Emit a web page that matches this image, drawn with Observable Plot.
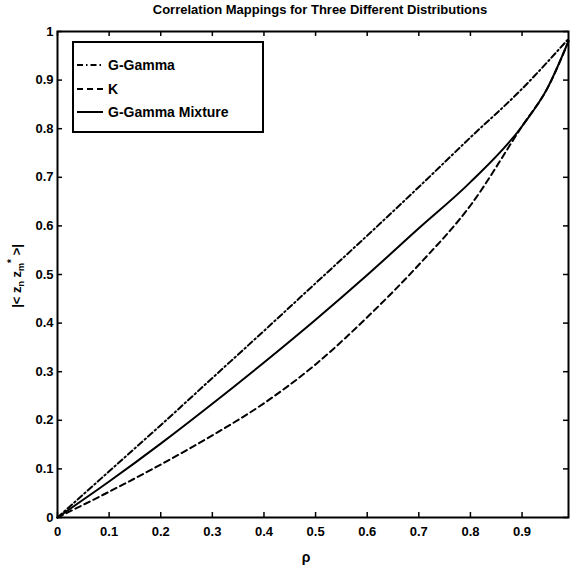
<!DOCTYPE html>
<html><head><meta charset="utf-8">
<script src="https://cdn.jsdelivr.net/npm/d3@7"></script>
<script src="https://cdn.jsdelivr.net/npm/@observablehq/plot@0.6"></script>
<style>body{margin:0;background:#fff;} svg{display:block;}</style>
</head><body><div id="chart"></div>
<script>
const titleText = "Correlation Mappings for Three Different Distributions";
const seriesNames = ["G-Gamma", "K", "G-Gamma Mixture"];

const rhoGG = [0, 0.1, 0.2, 0.3, 0.4, 0.5, 0.6, 0.7, 0.8, 0.9, 0.99];
const valGG = [0, 0.095, 0.19, 0.287, 0.384, 0.482, 0.58, 0.68, 0.782, 0.882, 0.985];

const rhoK = [0, 0.1, 0.2, 0.3, 0.4, 0.5, 0.6, 0.7, 0.8, 0.9, 0.95, 0.99];
const valK = [0, 0.053, 0.109, 0.169, 0.235, 0.315, 0.412, 0.52, 0.642, 0.805, 0.885, 0.98];

const rhoMix = [0, 0.1, 0.2, 0.3, 0.4, 0.5, 0.6, 0.7, 0.8, 0.9, 0.95, 0.99];
const valMix = [0, 0.074, 0.152, 0.234, 0.319, 0.407, 0.499, 0.595, 0.69, 0.805, 0.885, 0.98];

const xTicks = [0, 0.1, 0.2, 0.3, 0.4, 0.5, 0.6, 0.7, 0.8, 0.9];
const xTickLabels = ["0", "0.1", "0.2", "0.3", "0.4", "0.5", "0.6", "0.7", "0.8", "0.9"];
const yTicks = [0, 0.1, 0.2, 0.3, 0.4, 0.5, 0.6, 0.7, 0.8, 0.9, 1];
const yTickLabels = ["0", "0.1", "0.2", "0.3", "0.4", "0.5", "0.6", "0.7", "0.8", "0.9", "1"];

const toRows = (xs, ys) => xs.map((x, i) => ({rho: x, v: ys[i]}));
const ggRows = toRows(rhoGG, valGG);
const kRows = toRows(rhoK, valK);
const mixRows = toRows(rhoMix, valMix);

const font = "'Liberation Sans', Arial, sans-serif";
const dashDot = "6,3,1.5,3";
const dashed = "6,4";

const W = 580, H = 571, mL = 57, mR = 12, mT = 31, mB = 54, tick = 5;
const innerW = W - mL - mR, innerH = H - mT - mB;

const plot = Plot.plot({
  width: W, height: H,
  marginLeft: mL, marginRight: mR, marginTop: mT, marginBottom: mB,
  x: {domain: [0, 0.99]},
  y: {domain: [0, 1]},
  style: {fontFamily: font, fontSize: "13px", fontWeight: "bold", background: "white", color: "black"},
  marks: [
    Plot.axisX({ticks: xTicks, tickFormat: d => xTickLabels[xTicks.indexOf(d)], tickSize: 0, tickPadding: 9, label: null}),
    Plot.axisY({ticks: yTicks, tickFormat: d => yTickLabels[yTicks.indexOf(d)], tickSize: 0, tickPadding: 4, label: null}),
    // inward ticks on all four sides
    Plot.tickX(xTicks, {x: d => d, insetTop: innerH - tick, stroke: "black", strokeWidth: 1.5}),
    Plot.tickX(xTicks, {x: d => d, insetBottom: innerH - tick, stroke: "black", strokeWidth: 1.5}),
    Plot.tickY(yTicks, {y: d => d, insetRight: innerW - tick, stroke: "black", strokeWidth: 1.5}),
    Plot.tickY(yTicks, {y: d => d, insetLeft: innerW - tick, stroke: "black", strokeWidth: 1.5}),
    Plot.line(ggRows, {x: "rho", y: "v", stroke: "black", strokeWidth: 2, strokeDasharray: dashDot, curve: "monotone-x"}),
    Plot.line(kRows, {x: "rho", y: "v", stroke: "black", strokeWidth: 2, strokeDasharray: dashed, curve: "monotone-x"}),
    Plot.line(mixRows, {x: "rho", y: "v", stroke: "black", strokeWidth: 2, curve: "monotone-x"}),
    Plot.frame({stroke: "black", strokeWidth: 2})
  ]
});

document.getElementById("chart").appendChild(plot);
const svg = d3.select(plot);

// Title
svg.append("text").attr("x", 320).attr("y", 14).attr("text-anchor", "middle")
  .attr("font-family", font).attr("font-size", 13).attr("font-weight", "bold")
  .text(titleText);

// x label
svg.append("text").attr("x", 306).attr("y", 562).attr("text-anchor", "middle")
  .attr("font-family", font).attr("font-size", 14).attr("font-weight", "bold")
  .text("ρ");

// y label with sub/superscripts
const yl = svg.append("text").attr("transform", "translate(21,276) rotate(-90)")
  .attr("text-anchor", "middle").attr("font-family", font).attr("font-size", 13).attr("font-weight", "bold");
yl.append("tspan").text("|< z");
yl.append("tspan").attr("font-size", 9).attr("dy", 3).text("n");
yl.append("tspan").attr("dy", -3).text(" z");
yl.append("tspan").attr("font-size", 9).attr("dy", 3).text("m");
yl.append("tspan").attr("font-size", 10).attr("dy", -9).text("*");
yl.append("tspan").attr("dy", 6).text(" >|");

// Legend
const lg = svg.append("g");
lg.append("rect").attr("x", 73).attr("y", 42).attr("width", 190).attr("height", 90)
  .attr("fill", "white").attr("stroke", "black").attr("stroke-width", 2);
const legendStyles = [dashDot, dashed, null];
const legendY = [65, 89, 112];
seriesNames.forEach((name, i) => {
  const l = lg.append("line").attr("x1", 77).attr("x2", 103).attr("y1", legendY[i]).attr("y2", legendY[i])
    .attr("stroke", "black").attr("stroke-width", 2);
  if (legendStyles[i]) l.attr("stroke-dasharray", legendStyles[i]);
  lg.append("text").attr("x", 108).attr("y", legendY[i] + 5).attr("text-anchor", "start")
    .attr("font-family", font).attr("font-size", 14).attr("font-weight", "bold").text(name);
});
</script>
</body></html>
